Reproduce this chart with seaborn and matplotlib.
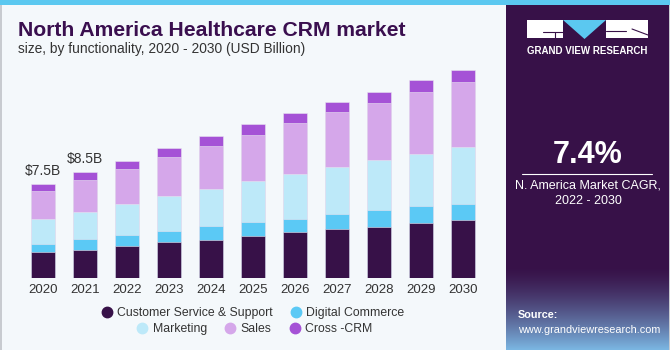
import numpy as np
import pandas as pd
import matplotlib
matplotlib.use("Agg")
import matplotlib.pyplot as plt
import seaborn as sns
from matplotlib.patches import Rectangle, Polygon
from matplotlib.lines import Line2D

# ---------------- data ----------------
years = ['2020', '2021', '2022', '2023', '2024', '2025', '2026', '2027', '2028', '2029', '2030']
customer_service = [2.05, 2.26, 2.54, 2.86, 3.06, 3.38, 3.68, 3.89, 4.10, 4.40, 4.64]
digital_commerce = [0.69, 0.86, 0.90, 0.93, 1.09, 1.10, 1.06, 1.26, 1.34, 1.33, 1.30]
marketing = [1.97, 2.18, 2.46, 2.78, 2.96, 3.25, 3.58, 3.70, 4.02, 4.22, 4.54]
sales = [2.26, 2.56, 2.82, 3.14, 3.44, 3.74, 4.05, 4.40, 4.58, 4.90, 5.20]
cross_crm = [0.53, 0.59, 0.64, 0.70, 0.80, 0.86, 0.83, 0.80, 0.88, 0.96, 0.98]
series_names = ['Customer Service & Support', 'Digital Commerce', 'Marketing', 'Sales', 'Cross -CRM']
series_colors = ['#371148', '#5bc9f5', '#bde9f9', '#d5a7ea', '#a552d6']
value_labels = {'2020': '$7.5B', '2021': '$8.5B'}

title = 'North America Healthcare CRM market'
subtitle = 'size, by functionality, 2020 - 2030 (USD Billion)'
cagr = '7.4%'
cagr_text = 'N. America Market CAGR,\n2022 - 2030'

# ---------------- style ----------------
sns.set_theme(style='white')
plt.rcParams['font.family'] = ['Liberation Sans', 'DejaVu Sans']

BG = '#f4f8fb'
PANEL = '#371148'
W, H = 670, 350
fig = plt.figure(figsize=(6.7, 3.5), dpi=100, facecolor=BG)

# background axes in pixel coordinates
bg = fig.add_axes([0, 0, 1, 1], zorder=0)
bg.axis('off')
bg.add_patch(Rectangle((0, 0), W, 5, color='#5bc8f0', lw=0))
bg.add_patch(Rectangle((0, 5), 1.5, H, color='#c8cbd0', lw=0))
bg.add_patch(Rectangle((W - 1.5, 5), 1.5, H, color='#c8cbd0', lw=0))
bg.add_patch(Rectangle((506, 5), W - 506 - 1.5, H - 5, color=PANEL, lw=0))
# bottom gradient of the panel
grad = np.linspace(0, 1, 100)[:, None]
c0 = np.array(matplotlib.colors.to_rgb(PANEL))
c1 = np.array(matplotlib.colors.to_rgb('#7bb6e2'))
g = grad[..., None] ** 1.4
img = c0[None, None, :] * (1 - g) + c1[None, None, :] * g
img = np.repeat(img, 2, axis=1)
bg.imshow(img, extent=[506, W - 1.5, H, 266], aspect='auto', zorder=1)
bg.set_xlim(0, W)
bg.set_ylim(H, 0)

# logo
bg.add_patch(Rectangle((527, 20), 36, 18, color='white', lw=0, zorder=2))
bg.add_patch(Polygon([(563, 20), (606, 20), (584.5, 39)], closed=True, color='#5bc8f0', lw=0, zorder=2))
bg.add_patch(Rectangle((606, 20), 42, 18, color='white', lw=0, zorder=2))
bg.plot([543, 563], [32, 32], color=PANEL, lw=0.8, zorder=3)
bg.plot([555, 555], [32, 38], color=PANEL, lw=0.8, zorder=3)
bg.plot([606, 626], [31, 31], color=PANEL, lw=0.8, zorder=3)
bg.plot([632, 648], [29, 35], color=PANEL, lw=0.8, zorder=3)
bg.text(587.5, 51, 'GRAND VIEW RESEARCH', color='white', fontsize=7, fontweight='bold',
        ha='center', va='center', zorder=3)

bg.text(588, 155, cagr, color='white', fontsize=22, fontweight='bold', ha='center', va='center', zorder=3)
bg.plot([522, 652], [173.5, 173.5], color='white', lw=0.8, zorder=3)
bg.text(588, 193, cagr_text, color='white', fontsize=9, ha='center', va='center',
        linespacing=1.35, zorder=3)
bg.text(518, 315, 'Source:', color='white', fontsize=7.8, fontweight='bold', ha='left', va='center', zorder=3)
bg.text(518, 330, 'www.grandviewresearch.com', color='white', fontsize=7.8, ha='left', va='center', zorder=3)

bg.text(18, 36, title, color='#3a0f4f', fontsize=15.2, fontweight='heavy', ha='left', va='baseline')
bg.text(18, 52.5, subtitle, color='#333333', fontsize=9.9, ha='left', va='baseline')

# ---------------- bars ----------------
df = pd.DataFrame({'year': years, 'cs': customer_service, 'dc': digital_commerce,
                   'mk': marketing, 'sa': sales, 'cr': cross_crm})
layers = ['cs', 'dc', 'mk', 'sa', 'cr']
cum = df[layers].cumsum(axis=1)

ax_left = 9.4 / W
ax_right = 496.4 / W
ymax = 18.0
px_per_unit = 12.5
ax_h = ymax * px_per_unit / H
ax_b = (H - 278) / H
ax = fig.add_axes([ax_left, ax_b, ax_right - ax_left, ax_h], zorder=2)
ax.patch.set_alpha(0)
for key, color in reversed(list(zip(layers, series_colors))):
    sns.barplot(x=df['year'], y=cum[key], color=color, order=years, width=0.57,
                saturation=1, edgecolor='#e8e4f0', linewidth=0.4, ax=ax)
ax.set_xlim(-0.8, 10.8)
ax.set_ylim(0, ymax)
ax.set_xlabel('')
ax.set_ylabel('')
ax.set_yticks([])
for s in ax.spines.values():
    s.set_visible(False)
ax.tick_params(axis='x', length=0, pad=4, labelsize=9.5, labelcolor='#333333')

totals = cum['cr'].tolist()
for i, y in enumerate(years):
    if y in value_labels:
        ax.text(i, totals[i] + 0.5, value_labels[y], ha='center', va='bottom',
                fontsize=10, color='#333333')

# ---------------- legend ----------------
def handle(c):
    return Line2D([], [], marker='o', linestyle='none', markersize=7.5,
                  markerfacecolor=c, markeredgecolor=c)

kw = dict(frameon=False, fontsize=8.8, handlelength=0.8, handletextpad=0.45,
          columnspacing=1.5, loc='center', borderaxespad=0, borderpad=0)
leg1 = fig.legend([handle(series_colors[0]), handle(series_colors[1])], series_names[:2],
                  ncol=2, bbox_to_anchor=(253 / W, (H - 313) / H), **kw)
leg2 = fig.legend([handle(c) for c in series_colors[2:]], series_names[2:],
                  ncol=3, bbox_to_anchor=(255 / W, (H - 329) / H), **kw)
for leg in (leg1, leg2):
    for t in leg.get_texts():
        t.set_color('#333333')

fig.savefig('out.png', dpi=100, facecolor=BG)
